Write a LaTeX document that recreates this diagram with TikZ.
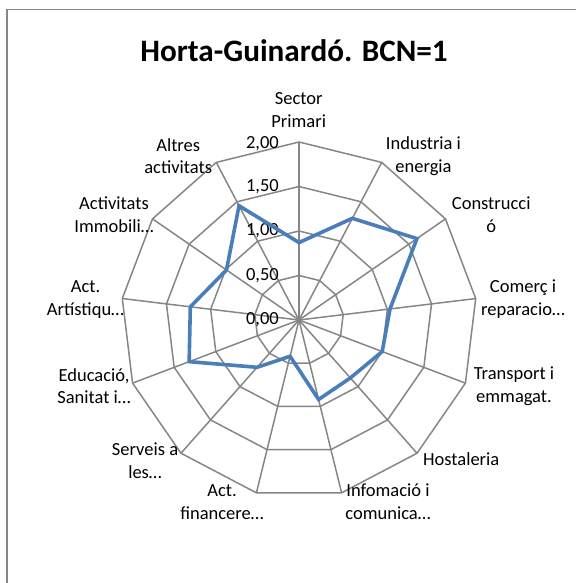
\documentclass[tikz,border=0pt]{standalone}
\usepackage{fontspec}
\setmainfont{Carlito}
\definecolor{gridgray}{HTML}{868686}
\definecolor{seriesblue}{HTML}{4A7EBB}
\tikzset{
  grid/.style={draw=gridgray, line width=1.5pt, line join=miter},
  series/.style={draw=seriesblue, line width=3.6pt, line join=miter},
  catlabel/.style={align=center, inner sep=0pt, font=\fontsize{18.5}{22.6}\selectfont},
  levellabel/.style={anchor=east, inner sep=0pt, font=\fontsize{18.5}{22.6}\selectfont}
}
\begin{document}
\begin{tikzpicture}[x=1pt,y=1pt]
\useasboundingbox (-299,-263) rectangle (277,320);

% Chart frame (only left and top edges are inside the picture)
\draw[gridgray, line width=1.8pt] (-292,-263) -- (-292,310.5) -- (277,310.5);

% Title
\node[anchor=base, inner sep=0pt, font=\fontsize{31.2}{36}\selectfont\bfseries] (title) at (-5,258.3) {Horta-Guinardó. BCN=1};

% Spokes and level polygons (13 axes, 89pt per unit)
\foreach \k in {0,...,12}
  \draw[grid] (0,0) -- ({90-\k*360/13}:178);
\foreach \r in {44.5,89,133.5,178}
  \draw[grid] (90:\r) \foreach \k in {1,...,12} { -- ({90-\k*360/13}:\r) } -- cycle;

% Level labels
\node[levellabel] (l0) at (-20,0) {0,00};
\node[levellabel] (l1) at (-20,44.5) {0,50};
\node[levellabel] (l2) at (-20,89) {1,00};
\node[levellabel] (l3) at (-20,133.5) {1,50};
\node[levellabel] (l4) at (-20,176) {2,00};

% Data points
\coordinate (d0) at ({90}:0.87*89);
\coordinate (d1) at ({90-1*360/13}:1.29*89);
\coordinate (d2) at ({90-2*360/13}:1.61*89);
\coordinate (d3) at ({90-3*360/13}:1.03*89);
\coordinate (d4) at ({90-4*360/13}:1.00*89);
\coordinate (d5) at ({90-5*360/13}:0.87*89);
\coordinate (d6) at ({90-6*360/13}:0.92*89);
\coordinate (d7) at ({90-7*360/13}:0.42*89);
\coordinate (d8) at ({90-8*360/13}:0.71*89);
\coordinate (d9) at ({90-9*360/13}:1.32*89);
\coordinate (d10) at ({90-10*360/13}:1.23*89);
\coordinate (d11) at ({90-11*360/13}:0.99*89);
\coordinate (d12) at ({90-12*360/13}:1.45*89);
\draw[series] (d0) -- (d1) -- (d2) -- (d3) -- (d4) -- (d5) -- (d6) -- (d7)
  -- (d8) -- (d9) -- (d10) -- (d11) -- (d12) -- cycle;

% Category labels
\node[catlabel] (primari) at (-0.3,209.8) {Sector\\Primari};
\node[catlabel] (industria) at (124.5,164) {Industria i\\energia};
\node[catlabel] (construccio) at (192.2,105) {Construcci\\ó};
\node[catlabel] (comerc) at (224,21) {Comerç i\\reparacio…};
\node[catlabel] (transport) at (215,-66) {Transport i\\emmagat.};
\node[catlabel] (hostaleria) at (162.2,-139.3) {Hostaleria};
\node[catlabel] (informacio) at (89,-182) {Infomació i\\comunica…};
\node[catlabel] (financeres) at (-77,-182) {Act.\\financere…};
\node[catlabel] (serveis) at (-154,-140.5) {Serveis a\\les…};
\node[catlabel] (educacio) at (-205,-66.3) {Educació,\\Sanitat i…};
\node[catlabel] (artistiques) at (-213.5,20.7) {Act.\\Artístiqu…};
\node[catlabel] (immobiliaries) at (-185,105.5) {Activitats\\Immobili…};
\node[catlabel] (altres) at (-120.8,164) {Altres\\activitats};

\end{tikzpicture}
\end{document}
